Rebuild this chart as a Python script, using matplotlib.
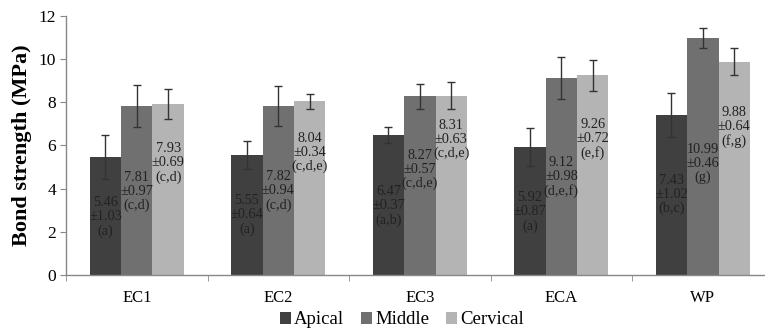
import matplotlib
matplotlib.use("Agg")
import matplotlib.pyplot as plt
import numpy as np
from matplotlib.patches import Patch

categories = ["EC1", "EC2", "EC3", "ECA", "WP"]
series = ["Apical", "Middle", "Cervical"]
means = {
    "Apical":   [5.46, 5.55, 6.47, 5.92, 7.43],
    "Middle":   [7.81, 7.82, 8.27, 9.12, 10.99],
    "Cervical": [7.93, 8.04, 8.31, 9.26, 9.88],
}
sds = {
    "Apical":   [1.03, 0.64, 0.37, 0.87, 1.02],
    "Middle":   [0.97, 0.94, 0.57, 0.98, 0.46],
    "Cervical": [0.69, 0.34, 0.63, 0.72, 0.64],
}
groups = {
    "Apical":   ["a", "a", "a,b", "a", "b,c"],
    "Middle":   ["c,d", "c,d", "c,d,e", "d,e,f", "g"],
    "Cervical": ["c,d", "c,d,e", "c,d,e", "e,f", "f,g"],
}
# vertical centre of each annotation block (data units)
label_y = {
    "Apical":   [2.70, 2.79, 3.20, 2.93, 3.72],
    "Middle":   [3.86, 3.90, 4.88, 4.56, 5.16],
    "Cervical": [5.20, 5.67, 6.28, 6.28, 6.84],
}
colors = {"Apical": "#404040", "Middle": "#707070", "Cervical": "#b4b4b4"}

plt.rcParams["font.family"] = ["Liberation Serif", "DejaVu Serif"]

fig = plt.figure(figsize=(7.65, 3.31), dpi=100)
ax = fig.add_axes([0.0863, 0.169, 0.925, 0.783])

x = np.arange(len(categories))
w = 0.222
for i, s in enumerate(series):
    xs = x + (i - 1) * w
    ax.bar(xs, means[s], width=w, color=colors[s], zorder=2)
    ax.errorbar(xs, means[s], yerr=sds[s], fmt="none", ecolor="#333333",
                elinewidth=1.0, capsize=3, capthick=1.0, zorder=3)
    for xi, m, sd, g, ly in zip(xs, means[s], sds[s], groups[s], label_y[s]):
        txt = f"{m:.2f}\n±{sd:.2f}\n({g})"
        ax.text(xi, ly, txt, ha="center", va="center", fontsize=10.3,
                color="#222222", linespacing=1.1, zorder=4)

ax.set_xlim(-0.5, len(categories) - 0.5)
ax.set_ylim(0, 12)
ax.set_yticks(range(0, 13, 2))
ax.set_xticks(x)
ax.set_xticklabels(categories, fontsize=12)
ax.set_xticks(np.arange(-0.5, len(categories), 1.0), minor=True)
ax.tick_params(axis="x", which="major", length=0, pad=11)
ax.tick_params(axis="x", which="minor", length=4, color="#888888", direction="out")
ax.tick_params(axis="y", labelsize=12.5, length=4, color="#888888", pad=3)
for sp in ["top", "right"]:
    ax.spines[sp].set_visible(False)
for sp in ["left", "bottom"]:
    ax.spines[sp].set_color("#888888")
    ax.spines[sp].set_linewidth(1.0)
ax.set_ylabel("Bond strength (MPa)", fontsize=16, fontweight="bold", labelpad=5)

handles = [Patch(facecolor=colors[s], edgecolor="none") for s in series]
fig.legend(handles, series, loc="center", bbox_to_anchor=(402 / 765, 1 - 320 / 331),
           ncol=3, frameon=False, fontsize=13.5, handlelength=0.6, handleheight=0.6,
           handletextpad=0.15, columnspacing=0.9, borderpad=0)

fig.savefig("out.png", dpi=100)
